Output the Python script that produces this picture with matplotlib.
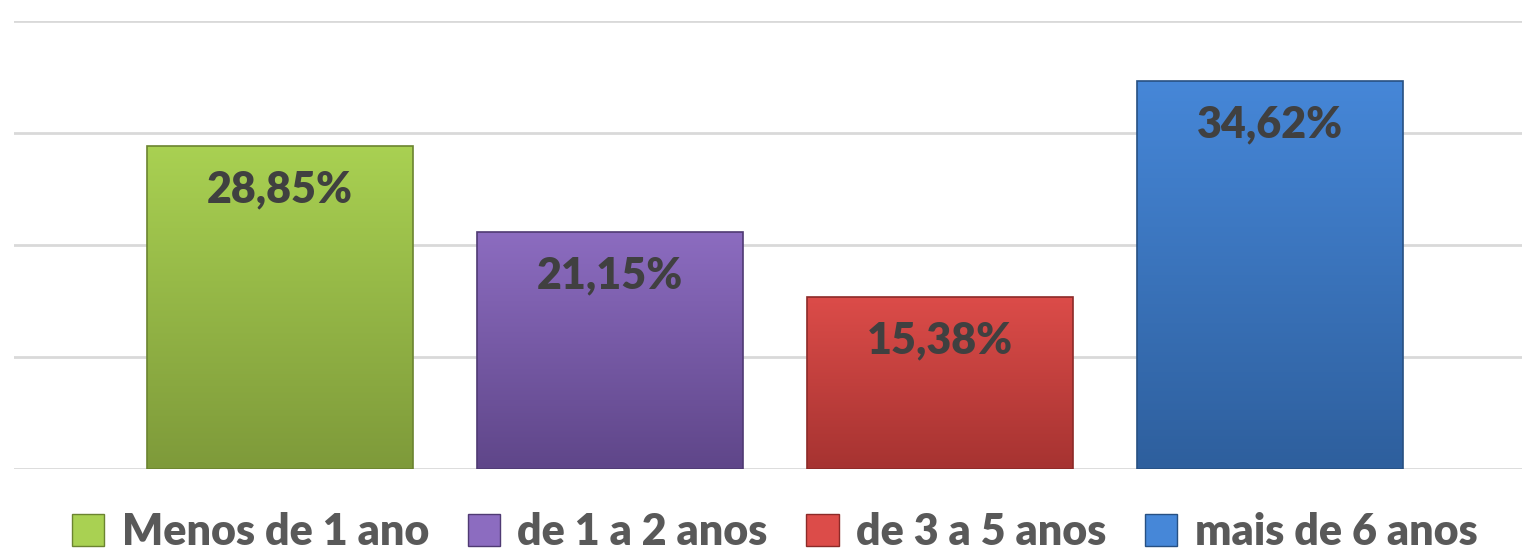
import numpy as np
import matplotlib.pyplot as plt
from matplotlib.patches import Patch
from matplotlib.colors import LinearSegmentedColormap

# data
categories = ['Menos de 1 ano', 'de 1 a 2 anos', 'de 3 a 5 anos', 'mais de 6 anos']
values = [28.85, 21.15, 15.38, 34.62]
labels = ['28,85%', '21,15%', '15,38%', '34,62%']

# gradient colours per bar (top, bottom) and edge
top_colors = ['#a9d152', '#8c6cc0', '#dc4c49', '#4687d8']
bottom_colors = ['#7e9a3a', '#5f4689', '#a63331', '#2e5f9d']
edge_colors = ['#6b8430', '#4f3a73', '#8c2a28', '#275082']

plt.rcParams['font.family'] = ['Lato', 'DejaVu Sans']

fig = plt.figure(figsize=(15.22, 5.56), dpi=100)
ax = fig.add_axes([14 / 1522, 87 / 556, 1 - 14 / 1522, 448 / 556])

x = np.arange(len(categories))
bars = ax.bar(x, values, width=0.806, color='none', edgecolor='none', zorder=3)

# vertical gradient fill clipped to each bar
for b, top, bot, edge in zip(bars, top_colors, bottom_colors, edge_colors):
    cmap = LinearSegmentedColormap.from_list('g', [bot, top])
    grad = np.linspace(0, 1, 256).reshape(-1, 1)
    x0, w, h = b.get_x(), b.get_width(), b.get_height()
    im = ax.imshow(grad, cmap=cmap, origin='lower', aspect='auto',
                   extent=[x0, x0 + w, 0, h], zorder=3)
    im.set_clip_path(b)
    b.set_edgecolor(edge)
    b.set_linewidth(1.2)
    b.set_zorder(4)

for xi, v, lab in zip(x, values, labels):
    ax.text(xi, v - 2.1, lab, ha='center', va='top', fontsize=31,
            fontweight='heavy', color='#404040', zorder=5)

ax.set_xlim(-0.806, 3.764)
ax.set_ylim(0, 40)
ax.set_yticks([0, 10, 20, 30, 40])
ax.yaxis.grid(True, color='#d9d9d9', linewidth=2)
ax.set_axisbelow(True)
ax.tick_params(left=False, bottom=False, labelleft=False, labelbottom=False)
for s in ax.spines.values():
    s.set_visible(False)

handles = [Patch(facecolor=c, edgecolor=e) for c, e in zip(top_colors, edge_colors)]
leg = fig.legend(handles, categories, loc='lower center', bbox_to_anchor=(0.509, -0.032),
                 ncol=4, frameon=False, handlelength=0.75, handleheight=0.75,
                 handletextpad=0.4, columnspacing=0.9, borderpad=0,
                 prop={'size': 31, 'weight': 'heavy'})
for t in leg.get_texts():
    t.set_color('#595959')

fig.savefig('out.png', dpi=100)
